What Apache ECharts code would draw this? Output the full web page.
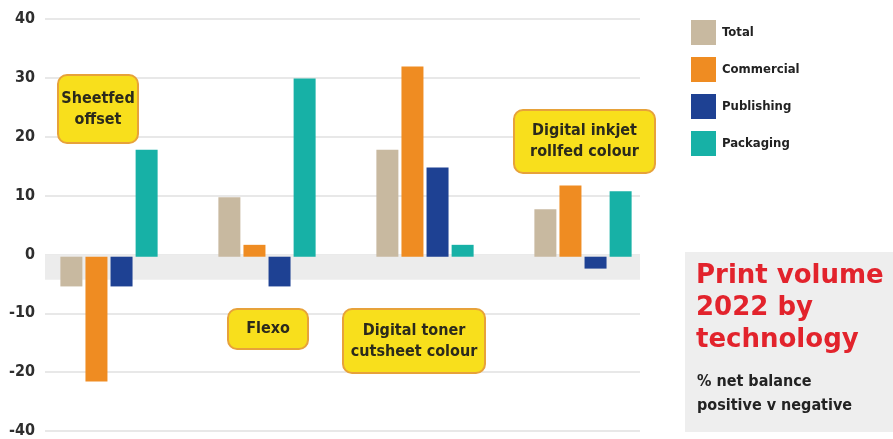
<!DOCTYPE html>
<html>
<head>
<meta charset="utf-8">
<script src="https://cdn.jsdelivr.net/npm/echarts@6/dist/echarts.min.js"></script>
<style>
html,body{margin:0;padding:0;background:#fff;}
#c{width:893px;height:439px;}
</style>
</head>
<body>
<div id="c"></div>
<script>
var categories = ['Sheetfed offset', 'Flexo', 'Digital toner cutsheet colour', 'Digital inkjet rollfed colour'];
var seriesNames = ['Total', 'Commercial', 'Publishing', 'Packaging'];
var total = [-5, 10, 18, 8];
var commercial = [-21, 2, 32, 12];
var publishing = [-5, -5, 15, -2];
var packaging = [18, 30, 2, 11];
var tickLabels = ['40', '30', '20', '10', '0', '-10', '-20', '-40'];
var colors = ['#c8b9a0', '#ef8c22', '#1e4193', '#17b1a6'];

var condensed = "'DejaVu Sans Condensed', 'DejaVu Sans', sans-serif";

var annotations = [
  { text: 'Sheetfed\noffset', x: 58, y: 75, w: 80, h: 68 },
  { text: 'Flexo', x: 228, y: 309, w: 80, h: 40 },
  { text: 'Digital toner\ncutsheet colour', x: 343, y: 309, w: 142, h: 64 },
  { text: 'Digital inkjet\nrollfed colour', x: 514, y: 110, w: 141, h: 63 }
];

var chart = echarts.init(document.getElementById('c'), null, { renderer: 'canvas' });

var graphics = [];
annotations.forEach(function (a) {
  graphics.push({
    type: 'rect', z: 100,
    shape: { x: a.x, y: a.y, width: a.w, height: a.h, r: 9 },
    style: { fill: '#f8df1c', stroke: '#e7a23a', lineWidth: 2 }
  });
  graphics.push({
    type: 'text', z: 101,
    x: a.x + a.w / 2, y: a.y + a.h / 2,
    style: {
      text: a.text, align: 'center', verticalAlign: 'middle',
      font: 'bold 16px ' + condensed, fill: '#2b2a1c', lineHeight: 21
    }
  });
});
graphics.push({
  type: 'rect', z: 90,
  shape: { x: 685, y: 252, width: 210, height: 180 },
  style: { fill: '#eeeeee' }
});
graphics.push({
  type: 'text', z: 91, x: 696, y: 260,
  style: {
    text: 'Print volume\n2022 by\ntechnology',
    font: 'bold 26px "DejaVu Sans", sans-serif', fill: '#e2232c', lineHeight: 32
  }
});
graphics.push({
  type: 'text', z: 91, x: 697, y: 370,
  style: {
    text: '% net balance\npositive v negative',
    font: 'bold 16px ' + condensed, fill: '#232323', lineHeight: 24
  }
});

function barSeries(name, data, i) {
  return {
    name: name, type: 'bar', data: data,
    xAxisIndex: 0, yAxisIndex: 0,
    barWidth: 22, barGap: '14%',
    itemStyle: { color: colors[i] }, z: 5
  };
}

var option = {
  backgroundColor: '#ffffff',
  animation: false,
  legend: {
    orient: 'vertical', left: 686, top: 15,
    itemWidth: 25, itemHeight: 25, itemGap: 12,
    icon: 'rect',
    data: seriesNames,
    textStyle: { fontFamily: condensed, fontWeight: 'bold', fontSize: 13, color: '#222', padding: [0, 0, 0, 1] }
  },
  grid: [
    { left: 30, right: 231, top: 19, height: 416 },
    { left: 45, right: 253, top: 19, height: 416 }
  ],
  xAxis: [
    { type: 'category', gridIndex: 0, data: categories, show: false },
    { type: 'category', gridIndex: 1, data: categories, show: false }
  ],
  yAxis: [
    { type: 'value', gridIndex: 0, min: -30, max: 40, interval: 10, show: false, splitLine: { show: false } },
    {
      type: 'value', gridIndex: 1, min: -30, max: 40, interval: 10,
      axisLine: { show: false }, axisTick: { show: false },
      splitLine: { show: true, lineStyle: { color: '#e8e8e8', width: 2 } },
      axisLabel: {
        margin: 10, color: '#2e2e2e', fontSize: 16, fontWeight: 'bold', fontFamily: condensed,
        formatter: function (v) { var i = Math.round((40 - v) / 10); return tickLabels[i]; }
      }
    }
  ],
  series: [
    barSeries(seriesNames[0], total, 0),
    barSeries(seriesNames[1], commercial, 1),
    barSeries(seriesNames[2], publishing, 2),
    barSeries(seriesNames[3], packaging, 3),
    {
      type: 'line', xAxisIndex: 1, yAxisIndex: 1, data: [], z: 1, silent: true,
      markArea: {
        silent: true,
        itemStyle: { color: '#ececec' },
        data: [[{ yAxis: 0 }, { yAxis: -4.3 }]]
      }
    }
  ],
  graphic: graphics
};
chart.setOption(option);
</script>
</body>
</html>
